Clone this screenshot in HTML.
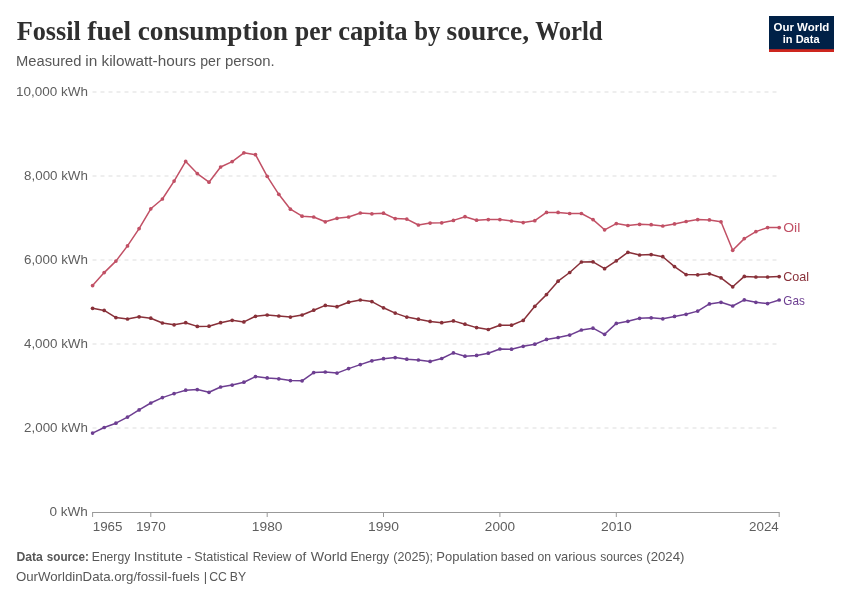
<!DOCTYPE html>
<html lang="en"><head><meta charset="utf-8"><title>Fossil fuel consumption per capita by source, World</title>
<style>
html,body{margin:0;padding:0;background:#fff;}
body{width:850px;height:600px;overflow:hidden;font-family:"Liberation Sans",sans-serif;}
svg{display:block}
text{white-space:pre}
.title{font-family:"Liberation Serif",serif;font-weight:700;font-size:27px;fill:#2f2f2f;}
.sub{font-family:"Liberation Sans",sans-serif;font-size:14px;fill:#575757;}
.ax{font-family:"Liberation Sans",sans-serif;font-size:13.5px;fill:#5e5e5e;}
.ft{font-family:"Liberation Sans",sans-serif;font-size:12.2px;fill:#575757;}
.b{font-weight:700}
.lb{font-family:"Liberation Sans",sans-serif;font-size:13px;}
.logo{font-family:"Liberation Sans",sans-serif;font-weight:700;font-size:11.5px;fill:#fff;}
</style></head><body>
<svg width="850" height="600" viewBox="0 0 850 600">
<rect width="850" height="600" fill="#fff"/>
<rect x="769" y="16" width="65" height="36" fill="#002147"/>
<rect x="769" y="49.2" width="65" height="2.8" fill="#ce261e"/>
<line x1="92.5" x2="779.3" y1="428.0" y2="428.0" stroke="#ddd" stroke-dasharray="4,4" stroke-width="1"/>
<line x1="92.5" x2="779.3" y1="344.0" y2="344.0" stroke="#ddd" stroke-dasharray="4,4" stroke-width="1"/>
<line x1="92.5" x2="779.3" y1="260.0" y2="260.0" stroke="#ddd" stroke-dasharray="4,4" stroke-width="1"/>
<line x1="92.5" x2="779.3" y1="176.0" y2="176.0" stroke="#ddd" stroke-dasharray="4,4" stroke-width="1"/>
<line x1="92.5" x2="779.3" y1="92.0" y2="92.0" stroke="#ddd" stroke-dasharray="4,4" stroke-width="1"/>

<line x1="92.1" x2="779.7" y1="512.5" y2="512.5" stroke="#999" stroke-width="1"/>
<line x1="92.6" x2="92.6" y1="512.5" y2="517" stroke="#999" stroke-width="1"/>
<line x1="150.8" x2="150.8" y1="512.5" y2="517" stroke="#999" stroke-width="1"/>
<line x1="267.2" x2="267.2" y1="512.5" y2="517" stroke="#999" stroke-width="1"/>
<line x1="383.5" x2="383.5" y1="512.5" y2="517" stroke="#999" stroke-width="1"/>
<line x1="499.9" x2="499.9" y1="512.5" y2="517" stroke="#999" stroke-width="1"/>
<line x1="616.3" x2="616.3" y1="512.5" y2="517" stroke="#999" stroke-width="1"/>
<line x1="779.2" x2="779.2" y1="512.5" y2="517" stroke="#999" stroke-width="1"/>

<path d="M92.6,285.6L104.2,272.6L115.9,261.1L127.5,245.9L139.1,228.6L150.8,208.8L162.4,199.0L174.1,181.1L185.7,161.4L197.3,173.6L209.0,182.2L220.6,167.0L232.2,161.6L243.9,152.8L255.5,154.7L267.2,176.3L278.8,194.3L290.4,209.2L302.1,216.2L313.7,217.0L325.3,221.8L337.0,218.3L348.6,217.0L360.3,213.0L371.9,213.8L383.5,213.2L395.2,218.6L406.8,219.1L418.4,225.0L430.1,223.1L441.7,222.8L453.4,220.4L465.0,216.7L476.6,220.2L488.3,219.6L499.9,219.6L511.5,221.0L523.2,222.6L534.8,220.7L546.5,212.4L558.1,212.4L569.7,213.5L581.4,213.5L593.0,219.6L604.6,229.8L616.3,223.6L627.9,225.5L639.6,224.3L651.2,224.7L662.8,226.0L674.5,223.9L686.1,221.5L697.7,219.6L709.4,219.9L721.0,221.8L732.7,250.3L744.3,238.6L755.9,231.6L767.6,227.6L779.2,227.6" fill="none" stroke="#c15065" stroke-width="1.5" stroke-linejoin="round" stroke-linecap="round"/>
<g fill="#c15065"><circle cx="92.6" cy="285.6" r="1.85"/><circle cx="104.2" cy="272.6" r="1.85"/><circle cx="115.9" cy="261.1" r="1.85"/><circle cx="127.5" cy="245.9" r="1.85"/><circle cx="139.1" cy="228.6" r="1.85"/><circle cx="150.8" cy="208.8" r="1.85"/><circle cx="162.4" cy="199.0" r="1.85"/><circle cx="174.1" cy="181.1" r="1.85"/><circle cx="185.7" cy="161.4" r="1.85"/><circle cx="197.3" cy="173.6" r="1.85"/><circle cx="209.0" cy="182.2" r="1.85"/><circle cx="220.6" cy="167.0" r="1.85"/><circle cx="232.2" cy="161.6" r="1.85"/><circle cx="243.9" cy="152.8" r="1.85"/><circle cx="255.5" cy="154.7" r="1.85"/><circle cx="267.2" cy="176.3" r="1.85"/><circle cx="278.8" cy="194.3" r="1.85"/><circle cx="290.4" cy="209.2" r="1.85"/><circle cx="302.1" cy="216.2" r="1.85"/><circle cx="313.7" cy="217.0" r="1.85"/><circle cx="325.3" cy="221.8" r="1.85"/><circle cx="337.0" cy="218.3" r="1.85"/><circle cx="348.6" cy="217.0" r="1.85"/><circle cx="360.3" cy="213.0" r="1.85"/><circle cx="371.9" cy="213.8" r="1.85"/><circle cx="383.5" cy="213.2" r="1.85"/><circle cx="395.2" cy="218.6" r="1.85"/><circle cx="406.8" cy="219.1" r="1.85"/><circle cx="418.4" cy="225.0" r="1.85"/><circle cx="430.1" cy="223.1" r="1.85"/><circle cx="441.7" cy="222.8" r="1.85"/><circle cx="453.4" cy="220.4" r="1.85"/><circle cx="465.0" cy="216.7" r="1.85"/><circle cx="476.6" cy="220.2" r="1.85"/><circle cx="488.3" cy="219.6" r="1.85"/><circle cx="499.9" cy="219.6" r="1.85"/><circle cx="511.5" cy="221.0" r="1.85"/><circle cx="523.2" cy="222.6" r="1.85"/><circle cx="534.8" cy="220.7" r="1.85"/><circle cx="546.5" cy="212.4" r="1.85"/><circle cx="558.1" cy="212.4" r="1.85"/><circle cx="569.7" cy="213.5" r="1.85"/><circle cx="581.4" cy="213.5" r="1.85"/><circle cx="593.0" cy="219.6" r="1.85"/><circle cx="604.6" cy="229.8" r="1.85"/><circle cx="616.3" cy="223.6" r="1.85"/><circle cx="627.9" cy="225.5" r="1.85"/><circle cx="639.6" cy="224.3" r="1.85"/><circle cx="651.2" cy="224.7" r="1.85"/><circle cx="662.8" cy="226.0" r="1.85"/><circle cx="674.5" cy="223.9" r="1.85"/><circle cx="686.1" cy="221.5" r="1.85"/><circle cx="697.7" cy="219.6" r="1.85"/><circle cx="709.4" cy="219.9" r="1.85"/><circle cx="721.0" cy="221.8" r="1.85"/><circle cx="732.7" cy="250.3" r="1.85"/><circle cx="744.3" cy="238.6" r="1.85"/><circle cx="755.9" cy="231.6" r="1.85"/><circle cx="767.6" cy="227.6" r="1.85"/><circle cx="779.2" cy="227.6" r="1.85"/></g>

<path d="M92.6,308.3L104.2,310.4L115.9,317.6L127.5,319.0L139.1,316.8L150.8,318.2L162.4,323.0L174.1,324.8L185.7,322.7L197.3,326.4L209.0,326.2L220.6,322.7L232.2,320.3L243.9,321.9L255.5,316.3L267.2,315.0L278.8,316.0L290.4,317.1L302.1,315.0L313.7,310.2L325.3,305.4L337.0,306.7L348.6,302.2L360.3,300.0L371.9,301.6L383.5,307.8L395.2,313.1L406.8,317.1L418.4,319.2L430.1,321.4L441.7,322.7L453.4,320.9L465.0,324.2L476.6,327.6L488.3,329.5L499.9,325.2L511.5,325.2L523.2,320.4L534.8,306.3L546.5,294.6L558.1,281.2L569.7,272.5L581.4,262.0L593.0,261.8L604.6,268.7L616.3,260.8L627.9,252.3L639.6,255.0L651.2,254.6L662.8,256.7L674.5,266.6L686.1,274.6L697.7,274.8L709.4,273.8L721.0,277.8L732.7,286.8L744.3,276.4L755.9,277.0L767.6,277.0L779.2,276.6" fill="none" stroke="#883039" stroke-width="1.5" stroke-linejoin="round" stroke-linecap="round"/>
<g fill="#883039"><circle cx="92.6" cy="308.3" r="1.85"/><circle cx="104.2" cy="310.4" r="1.85"/><circle cx="115.9" cy="317.6" r="1.85"/><circle cx="127.5" cy="319.0" r="1.85"/><circle cx="139.1" cy="316.8" r="1.85"/><circle cx="150.8" cy="318.2" r="1.85"/><circle cx="162.4" cy="323.0" r="1.85"/><circle cx="174.1" cy="324.8" r="1.85"/><circle cx="185.7" cy="322.7" r="1.85"/><circle cx="197.3" cy="326.4" r="1.85"/><circle cx="209.0" cy="326.2" r="1.85"/><circle cx="220.6" cy="322.7" r="1.85"/><circle cx="232.2" cy="320.3" r="1.85"/><circle cx="243.9" cy="321.9" r="1.85"/><circle cx="255.5" cy="316.3" r="1.85"/><circle cx="267.2" cy="315.0" r="1.85"/><circle cx="278.8" cy="316.0" r="1.85"/><circle cx="290.4" cy="317.1" r="1.85"/><circle cx="302.1" cy="315.0" r="1.85"/><circle cx="313.7" cy="310.2" r="1.85"/><circle cx="325.3" cy="305.4" r="1.85"/><circle cx="337.0" cy="306.7" r="1.85"/><circle cx="348.6" cy="302.2" r="1.85"/><circle cx="360.3" cy="300.0" r="1.85"/><circle cx="371.9" cy="301.6" r="1.85"/><circle cx="383.5" cy="307.8" r="1.85"/><circle cx="395.2" cy="313.1" r="1.85"/><circle cx="406.8" cy="317.1" r="1.85"/><circle cx="418.4" cy="319.2" r="1.85"/><circle cx="430.1" cy="321.4" r="1.85"/><circle cx="441.7" cy="322.7" r="1.85"/><circle cx="453.4" cy="320.9" r="1.85"/><circle cx="465.0" cy="324.2" r="1.85"/><circle cx="476.6" cy="327.6" r="1.85"/><circle cx="488.3" cy="329.5" r="1.85"/><circle cx="499.9" cy="325.2" r="1.85"/><circle cx="511.5" cy="325.2" r="1.85"/><circle cx="523.2" cy="320.4" r="1.85"/><circle cx="534.8" cy="306.3" r="1.85"/><circle cx="546.5" cy="294.6" r="1.85"/><circle cx="558.1" cy="281.2" r="1.85"/><circle cx="569.7" cy="272.5" r="1.85"/><circle cx="581.4" cy="262.0" r="1.85"/><circle cx="593.0" cy="261.8" r="1.85"/><circle cx="604.6" cy="268.7" r="1.85"/><circle cx="616.3" cy="260.8" r="1.85"/><circle cx="627.9" cy="252.3" r="1.85"/><circle cx="639.6" cy="255.0" r="1.85"/><circle cx="651.2" cy="254.6" r="1.85"/><circle cx="662.8" cy="256.7" r="1.85"/><circle cx="674.5" cy="266.6" r="1.85"/><circle cx="686.1" cy="274.6" r="1.85"/><circle cx="697.7" cy="274.8" r="1.85"/><circle cx="709.4" cy="273.8" r="1.85"/><circle cx="721.0" cy="277.8" r="1.85"/><circle cx="732.7" cy="286.8" r="1.85"/><circle cx="744.3" cy="276.4" r="1.85"/><circle cx="755.9" cy="277.0" r="1.85"/><circle cx="767.6" cy="277.0" r="1.85"/><circle cx="779.2" cy="276.6" r="1.85"/></g>

<path d="M92.6,433.1L104.2,427.5L115.9,423.2L127.5,417.1L139.1,409.9L150.8,403.0L162.4,397.6L174.1,393.6L185.7,390.2L197.3,389.6L209.0,392.3L220.6,387.0L232.2,385.1L243.9,382.2L255.5,376.6L267.2,377.9L278.8,378.8L290.4,380.6L302.1,380.8L313.7,372.6L325.3,372.0L337.0,373.1L348.6,368.6L360.3,364.6L371.9,360.8L383.5,358.7L395.2,357.6L406.8,359.2L418.4,360.0L430.1,361.4L441.7,358.5L453.4,352.9L465.0,356.2L476.6,355.4L488.3,353.2L499.9,349.0L511.5,349.2L523.2,346.3L534.8,344.2L546.5,339.4L558.1,337.5L569.7,335.1L581.4,330.0L593.0,328.2L604.6,334.3L616.3,323.4L627.9,321.3L639.6,318.3L651.2,317.8L662.8,318.8L674.5,316.4L686.1,314.3L697.7,311.1L709.4,303.9L721.0,302.3L732.7,306.0L744.3,299.9L755.9,302.3L767.6,303.6L779.2,300.0" fill="none" stroke="#6d3e91" stroke-width="1.5" stroke-linejoin="round" stroke-linecap="round"/>
<g fill="#6d3e91"><circle cx="92.6" cy="433.1" r="1.85"/><circle cx="104.2" cy="427.5" r="1.85"/><circle cx="115.9" cy="423.2" r="1.85"/><circle cx="127.5" cy="417.1" r="1.85"/><circle cx="139.1" cy="409.9" r="1.85"/><circle cx="150.8" cy="403.0" r="1.85"/><circle cx="162.4" cy="397.6" r="1.85"/><circle cx="174.1" cy="393.6" r="1.85"/><circle cx="185.7" cy="390.2" r="1.85"/><circle cx="197.3" cy="389.6" r="1.85"/><circle cx="209.0" cy="392.3" r="1.85"/><circle cx="220.6" cy="387.0" r="1.85"/><circle cx="232.2" cy="385.1" r="1.85"/><circle cx="243.9" cy="382.2" r="1.85"/><circle cx="255.5" cy="376.6" r="1.85"/><circle cx="267.2" cy="377.9" r="1.85"/><circle cx="278.8" cy="378.8" r="1.85"/><circle cx="290.4" cy="380.6" r="1.85"/><circle cx="302.1" cy="380.8" r="1.85"/><circle cx="313.7" cy="372.6" r="1.85"/><circle cx="325.3" cy="372.0" r="1.85"/><circle cx="337.0" cy="373.1" r="1.85"/><circle cx="348.6" cy="368.6" r="1.85"/><circle cx="360.3" cy="364.6" r="1.85"/><circle cx="371.9" cy="360.8" r="1.85"/><circle cx="383.5" cy="358.7" r="1.85"/><circle cx="395.2" cy="357.6" r="1.85"/><circle cx="406.8" cy="359.2" r="1.85"/><circle cx="418.4" cy="360.0" r="1.85"/><circle cx="430.1" cy="361.4" r="1.85"/><circle cx="441.7" cy="358.5" r="1.85"/><circle cx="453.4" cy="352.9" r="1.85"/><circle cx="465.0" cy="356.2" r="1.85"/><circle cx="476.6" cy="355.4" r="1.85"/><circle cx="488.3" cy="353.2" r="1.85"/><circle cx="499.9" cy="349.0" r="1.85"/><circle cx="511.5" cy="349.2" r="1.85"/><circle cx="523.2" cy="346.3" r="1.85"/><circle cx="534.8" cy="344.2" r="1.85"/><circle cx="546.5" cy="339.4" r="1.85"/><circle cx="558.1" cy="337.5" r="1.85"/><circle cx="569.7" cy="335.1" r="1.85"/><circle cx="581.4" cy="330.0" r="1.85"/><circle cx="593.0" cy="328.2" r="1.85"/><circle cx="604.6" cy="334.3" r="1.85"/><circle cx="616.3" cy="323.4" r="1.85"/><circle cx="627.9" cy="321.3" r="1.85"/><circle cx="639.6" cy="318.3" r="1.85"/><circle cx="651.2" cy="317.8" r="1.85"/><circle cx="662.8" cy="318.8" r="1.85"/><circle cx="674.5" cy="316.4" r="1.85"/><circle cx="686.1" cy="314.3" r="1.85"/><circle cx="697.7" cy="311.1" r="1.85"/><circle cx="709.4" cy="303.9" r="1.85"/><circle cx="721.0" cy="302.3" r="1.85"/><circle cx="732.7" cy="306.0" r="1.85"/><circle cx="744.3" cy="299.9" r="1.85"/><circle cx="755.9" cy="302.3" r="1.85"/><circle cx="767.6" cy="303.6" r="1.85"/><circle cx="779.2" cy="300.0" r="1.85"/></g>

<text y="40.0" class="title" ><tspan x="16.71" textLength="64.19" lengthAdjust="spacingAndGlyphs">Fossil</tspan> <tspan x="87.35" textLength="43.75" lengthAdjust="spacingAndGlyphs">fuel</tspan> <tspan x="137.71" textLength="150.31" lengthAdjust="spacingAndGlyphs">consumption</tspan> <tspan x="295.05" textLength="36.42" lengthAdjust="spacingAndGlyphs">per</tspan> <tspan x="338.24" textLength="69.33" lengthAdjust="spacingAndGlyphs">capita</tspan> <tspan x="414.26" textLength="26.20" lengthAdjust="spacingAndGlyphs">by</tspan> <tspan x="446.51" textLength="82.61" lengthAdjust="spacingAndGlyphs">source,</tspan> <tspan x="535.26" textLength="67.39" lengthAdjust="spacingAndGlyphs">World</tspan></text>
<text y="66.4" class="sub" ><tspan x="16.02" textLength="65.42" lengthAdjust="spacingAndGlyphs">Measured</tspan> <tspan x="85.30" textLength="12.00" lengthAdjust="spacingAndGlyphs">in</tspan> <tspan x="101.51" textLength="94.44" lengthAdjust="spacingAndGlyphs">kilowatt-hours</tspan> <tspan x="200.22" textLength="20.42" lengthAdjust="spacingAndGlyphs">per</tspan> <tspan x="224.97" textLength="49.75" lengthAdjust="spacingAndGlyphs">person.</tspan></text>
<text y="516.0" class="ax" ><tspan x="49.50" textLength="38.40" lengthAdjust="spacingAndGlyphs">0 kWh</tspan></text>
<text y="432.0" class="ax" ><tspan x="24.08" textLength="63.83" lengthAdjust="spacingAndGlyphs">2,000 kWh</tspan></text>
<text y="348.0" class="ax" ><tspan x="23.95" textLength="63.96" lengthAdjust="spacingAndGlyphs">4,000 kWh</tspan></text>
<text y="264.0" class="ax" ><tspan x="23.96" textLength="63.96" lengthAdjust="spacingAndGlyphs">6,000 kWh</tspan></text>
<text y="180.0" class="ax" ><tspan x="24.08" textLength="63.83" lengthAdjust="spacingAndGlyphs">8,000 kWh</tspan></text>
<text y="96.0" class="ax" ><tspan x="16.10" textLength="71.82" lengthAdjust="spacingAndGlyphs">10,000 kWh</tspan></text>
<text y="530.5" class="ax" ><tspan x="92.71" textLength="29.73" lengthAdjust="spacingAndGlyphs">1965</tspan> <tspan x="135.90" textLength="29.94" lengthAdjust="spacingAndGlyphs">1970</tspan> <tspan x="251.88" textLength="30.57" lengthAdjust="spacingAndGlyphs">1980</tspan> <tspan x="368.07" textLength="30.89" lengthAdjust="spacingAndGlyphs">1990</tspan> <tspan x="484.87" textLength="30.18" lengthAdjust="spacingAndGlyphs">2000</tspan> <tspan x="600.96" textLength="30.80" lengthAdjust="spacingAndGlyphs">2010</tspan> <tspan x="749.08" textLength="29.74" lengthAdjust="spacingAndGlyphs">2024</tspan></text>
<text y="232.4" class="lb" fill="#c15065"><tspan x="783.18" textLength="17.08" lengthAdjust="spacingAndGlyphs">Oil</tspan></text>
<text y="281.2" class="lb" fill="#883039"><tspan x="783.24" textLength="25.90" lengthAdjust="spacingAndGlyphs">Coal</tspan></text>
<text y="304.5" class="lb" fill="#6d3e91"><tspan x="783.29" textLength="21.54" lengthAdjust="spacingAndGlyphs">Gas</tspan></text>
<text y="30.6" class="logo" ><tspan x="773.50" textLength="55.86" lengthAdjust="spacingAndGlyphs">Our World</tspan></text>
<text y="42.6" class="logo" ><tspan x="782.78" textLength="36.79" lengthAdjust="spacingAndGlyphs">in Data</tspan></text>
<text y="561.1" class="ft" ><tspan x="16.42" textLength="26.50" lengthAdjust="spacingAndGlyphs" class="b">Data</tspan> <tspan x="46.82" textLength="42.19" lengthAdjust="spacingAndGlyphs" class="b">source:</tspan> <tspan x="91.81" textLength="38.42" lengthAdjust="spacingAndGlyphs">Energy</tspan> <tspan x="133.71" textLength="49.04" lengthAdjust="spacingAndGlyphs">Institute</tspan> <tspan x="186.88" textLength="4.50" lengthAdjust="spacingAndGlyphs">-</tspan> <tspan x="194.35" textLength="54.06" lengthAdjust="spacingAndGlyphs">Statistical</tspan> <tspan x="252.64" textLength="38.53" lengthAdjust="spacingAndGlyphs">Review</tspan> <tspan x="294.97" textLength="11.27" lengthAdjust="spacingAndGlyphs">of</tspan> <tspan x="310.86" textLength="36.54" lengthAdjust="spacingAndGlyphs">World</tspan> <tspan x="350.50" textLength="38.52" lengthAdjust="spacingAndGlyphs">Energy</tspan> <tspan x="393.33" textLength="39.73" lengthAdjust="spacingAndGlyphs">(2025);</tspan> <tspan x="436.33" textLength="61.48" lengthAdjust="spacingAndGlyphs">Population</tspan> <tspan x="500.75" textLength="33.19" lengthAdjust="spacingAndGlyphs">based</tspan> <tspan x="537.50" textLength="13.51" lengthAdjust="spacingAndGlyphs">on</tspan> <tspan x="554.67" textLength="41.43" lengthAdjust="spacingAndGlyphs">various</tspan> <tspan x="600.18" textLength="42.25" lengthAdjust="spacingAndGlyphs">sources</tspan> <tspan x="646.29" textLength="38.11" lengthAdjust="spacingAndGlyphs">(2024)</tspan></text>
<text y="580.7" class="ft" ><tspan x="15.92" textLength="183.71" lengthAdjust="spacingAndGlyphs">OurWorldinData.org/fossil-fuels</tspan> <tspan x="203.76" textLength="3.39" lengthAdjust="spacingAndGlyphs">|</tspan> <tspan x="209.24" textLength="17.68" lengthAdjust="spacingAndGlyphs">CC</tspan> <tspan x="229.83" textLength="16.33" lengthAdjust="spacingAndGlyphs">BY</tspan></text>

</svg>
</body></html>
